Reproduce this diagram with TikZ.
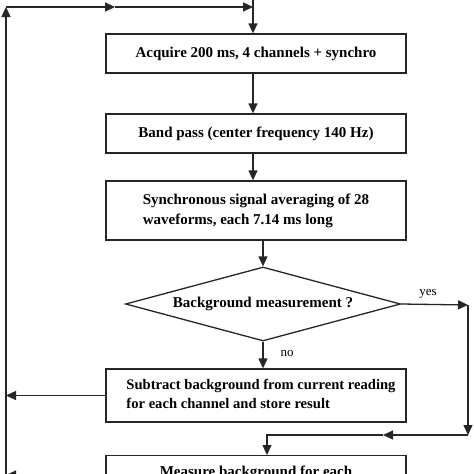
\documentclass[tikz,border=0pt]{standalone}
\usepackage{fontspec}
\setmainfont{Liberation Serif}
\usetikzlibrary{arrows.meta,shapes.geometric}
\begin{document}
\begin{tikzpicture}[x=1pt,y=-1pt,
  ln/.style={line width=1.3pt, draw=black!85},
  arr/.style={ln,-{Triangle[length=10pt,width=9pt]}},
  box/.style={ln, rectangle, minimum width=300pt, inner sep=0pt,
    font=\fontsize{15}{19}\selectfont\bfseries, align=left},
  lbl/.style={font=\fontsize{13}{15}\selectfont, inner sep=0pt}]
\fill[white] (0,0) rectangle (474,474);
\useasboundingbox (0,0) rectangle (474,474);
\begin{scope}
\clip (0,0) rectangle (474,474);
\node[box, minimum height=39pt] (b1) at (256,53.5) {Acquire 200 ms, 4 channels + synchro};
\node[box, minimum height=39pt] (b2) at (256,133.5) {\raisebox{-3pt}{Band pass (center frequency 140 Hz)}};
\node[box, minimum height=59pt] (b3) at (256,210.5) {\raisebox{-2pt}{\fontsize{15}{20}\selectfont\begin{tabular}{@{}l@{}}Synchronous signal averaging of 28\\waveforms, each 7.14 ms long\end{tabular}}};
\node[ln, diamond, minimum width=275pt, minimum height=74pt, inner sep=0pt, aspect=3.7,
  font=\fontsize{15}{19}\selectfont\bfseries] (d) at (263,304) {Background measurement ?};
\node[box, minimum height=53pt] (b4) at (256,395.5) {\hspace*{10pt}\raisebox{-3pt}{\fontsize{14.6}{19}\selectfont\begin{tabular}{@{}l@{}}Subtract background from current reading\\for each channel and store result\end{tabular}}};
\node[box, anchor=north, inner ysep=10pt, minimum height=40pt, text depth=20pt] (b5) at (256,455) {Measure background for each};

\coordinate (tl) at (6,7);
\coordinate (tm) at (115,7);
\coordinate (tr) at (253,7);
\coordinate (tt) at (253,-5);
\coordinate (lb) at (6,500);
\coordinate (rr1) at (468,305);
\coordinate (rr2) at (468,435);
\coordinate (rm) at (383,435);

\draw[arr] (lb) -- (tl);
\draw[arr] (tl) -- (tm);
\draw[arr] (tm) -- (tr);
\draw[arr] (tt) -- ([xshift=-3pt]b1.north);
\draw[arr] ([xshift=-3pt]b1.south) -- ([xshift=-3pt]b2.north);
\draw[arr] ([xshift=-3pt]b2.south) -- ([xshift=-3pt]b3.north);
\draw[arr] (b3.south -| d.north) -- (d.north);
\draw[arr] (d.south) -- (d.south |- b4.north);
\node[lbl] at (287,353) {no};
\draw[arr] (d.east) -- (rr1);
\node[lbl] at (428,294) {yes};
\draw[arr] (rr1) -- (rr2);
\draw[arr] (rr2) -- (rm);
\draw[arr] (rm) -| ([xshift=11pt]b5.north);
\draw[arr] (b4.west) -- (b4.west -| tl);
\draw[arr] ([yshift=-20pt]b5.north west) -- ([yshift=-20pt]b5.north west -| tl);
\end{scope}
\end{tikzpicture}
\end{document}
